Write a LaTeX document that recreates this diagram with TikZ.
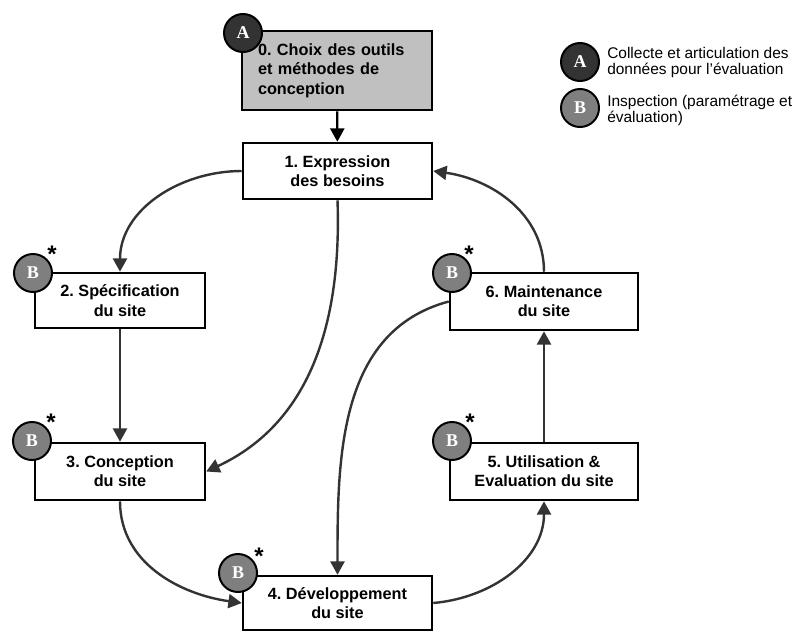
\documentclass[tikz,border=0pt]{standalone}
\usepackage{fontspec}
\setmainfont{Liberation Sans}
\newfontfamily\circfont{Liberation Serif}
\usetikzlibrary{arrows.meta}
\frenchspacing
\definecolor{arrowgray}{HTML}{333333}
\definecolor{circA}{HTML}{333333}
\definecolor{circB}{HTML}{7F7F7F}
\definecolor{boxgray}{HTML}{C0C0C0}
\tikzset{
  stepbox/.style={draw=black, line width=1.9pt, fill=white, rectangle, inner sep=0pt,
    font=\fontsize{12.2pt}{14.5pt}\selectfont\bfseries, align=center},
  badge/.style={circle, draw=black, line width=1.5pt, minimum size=28.5pt, inner sep=0pt,
    text=white, font=\circfont\fontsize{13.5pt}{13.5pt}\selectfont\bfseries},
  badgeA/.style={badge, fill=circA},
  badgeB/.style={badge, fill=circB},
  starmark/.style={inner sep=0pt, font=\fontsize{18pt}{18pt}\selectfont\bfseries},
  flow/.style={draw=arrowgray, line width=1.8pt, -{Triangle[length=10pt,width=10.5pt]}},
  legendtext/.style={anchor=west, align=left, inner sep=0pt,
    font=\fontsize{11.6pt}{12pt}\selectfont}
}
\begin{document}
\begin{tikzpicture}[x=0.75pt,y=-0.75pt]
\useasboundingbox (0,0) rectangle (802,632);
% boxes
\node[stepbox, fill=boxgray, minimum width=142.5pt, minimum height=59.25pt, text width=118.5pt, align=left] (b0) at (337,70.5) {0. Choix des outils\\et méthodes de\\conception};
\node[stepbox, minimum width=141.75pt, minimum height=42pt] (b1) at (337.5,171) {1. Expression\\des besoins};
\node[stepbox, minimum width=127.5pt, minimum height=41.25pt] (b2) at (120,300.5) {2. Spécification\\du site};
\node[stepbox, minimum width=127.5pt, minimum height=42.75pt] (b3) at (120,471.5) {3. Conception\\du site};
\node[stepbox, minimum width=141.75pt, minimum height=40.5pt] (b4) at (337.5,603) {4. Développement\\du site};
\node[stepbox, minimum width=141pt, minimum height=42.75pt] (b5) at (544,471.5) {5. Utilisation \&\\Evaluation du site};
\node[stepbox, minimum width=141pt, minimum height=42.75pt] (b6) at (544,301.5) {6. Maintenance\\du site};
% connectors
\draw[flow, draw=black] (b0) -- (b1);
\draw[flow] (b1.west) to[out=180,in=90] (b2.north);
\draw[flow] (b1.south) to[out=-88,in=25] (b3.east);
\draw[flow] (b2) -- (b3);
\draw[flow] (b3.south) to[out=-90,in=172] (b4.west);
\draw[flow] (b6.west) to[out=195,in=90] (b4.north);
\draw[flow] (b4.east) to[out=5,in=-90] (b5.south);
\draw[flow] (b5) -- (b6);
\draw[flow] (b6.north) to[out=90,in=-8] (b1.east);
% badges
\node[badgeA] (cA) at (243,33) {A};
\node[badgeB] (c2) at (33,273) {B};
\node[badgeB] (c3) at (32,441) {B};
\node[badgeB] (c4) at (238,573) {B};
\node[badgeB] (c5) at (452,441) {B};
\node[badgeB] (c6) at (452,273) {B};
\node[starmark] (s2) at (52,254) {*};
\node[starmark] (s3) at (51,422) {*};
\node[starmark] (s4) at (259,556) {*};
\node[starmark] (s5) at (470,422) {*};
\node[starmark] (s6) at (469,254) {*};
% legend
\node[badgeA] (lA) at (580,62) {A};
\node[badgeB] (lB) at (580,108) {B};
\node[legendtext] (tA) at (607,62) {Collecte et articulation des\\données pour l’évaluation};
\node[legendtext] (tB) at (607,110) {Inspection (paramétrage et\\évaluation)};
\end{tikzpicture}
\end{document}
